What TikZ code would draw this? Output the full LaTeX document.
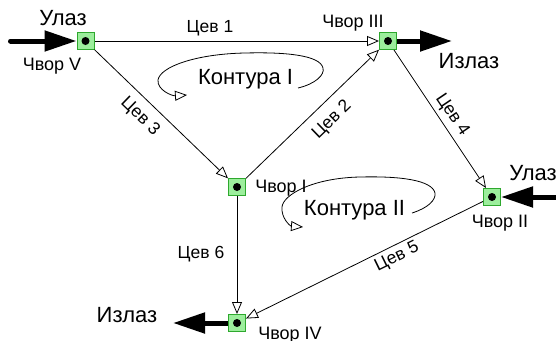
\documentclass[tikz,border=0pt]{standalone}
\usepackage{fontspec}
\setmainfont{Liberation Sans}
\usetikzlibrary{arrows.meta}
\definecolor{jfill}{HTML}{9CEE9C}
\definecolor{jdraw}{HTML}{2EA82E}
\tikzset{
  junction/.style={rectangle, draw=jdraw, fill=jfill, line width=1pt, minimum size=17pt, inner sep=0pt,
    path picture={\fill[black] (path picture bounding box.center) circle (4pt);}},
  pipe/.style={line width=0.8pt, -{Triangle[fill=white, length=12pt, width=10pt]}},
  flow/.style={line width=5pt, -{Triangle[length=32pt, width=20pt]}},
  flowtail/.style={flow, line cap=round},
  loop/.style={line width=0.8pt, -{Triangle[fill=white, length=12pt, width=10pt]}},
  pipelabel/.style={font=\fontsize{17.5}{19}\selectfont, inner sep=0pt},
  junclabel/.style={font=\fontsize{18}{20}\selectfont, inner sep=0pt, anchor=base},
  iolabel/.style={font=\fontsize{22}{25}\selectfont, inner sep=0pt, anchor=base},
  contlabel/.style={font=\fontsize{22}{25}\selectfont, inner sep=0pt, anchor=base},
}
\begin{document}
\begin{tikzpicture}[x=1pt, y=-1pt]
\useasboundingbox (0,0) rectangle (556,340);
% junctions
\node[junction] (V) at (85.5,41) {};
\node[junction] (III) at (388,41) {};
\node[junction] (I) at (237,187) {};
\node[junction] (II) at (492,197) {};
\node[junction] (IV) at (237,323) {};
% free ends of external flows
\coordinate (inV) at (10.5,41);
\coordinate (outIII) at (452,41);
\coordinate (inII) at (560,197);
\coordinate (outIV) at (173,323);
% pipes
\draw[pipe] (V) -- (III);
\draw[pipe] (V) -- (I);
\draw[pipe] (I) -- (III);
\draw[pipe] (III) -- (II);
\draw[pipe] (II) -- (IV);
\draw[pipe] (I) -- (IV);
% external flows
\draw[flowtail] (inV) -- (V);
\draw[flow] (III) -- (outIII);
\draw[flow] (inII) -- (II);
\draw[flow] (IV) -- (outIV);
% contour loops
\draw[loop] (298,88) .. controls (315,84) and (325,75) .. (323,68)
  .. controls (320,55) and (285,52) .. (245,53)
  .. controls (195,54) and (160,67) .. (158,80)
  .. controls (157,90) and (172,96) .. (187,95);
\draw[loop] (412,213) .. controls (428,208) and (436,200) .. (435,193)
  .. controls (432,180) and (400,176) .. (360,177)
  .. controls (312,178) and (283,195) .. (282,207)
  .. controls (281,218) and (290,226) .. (303,227);
% pipe labels
\node[pipelabel] (c1) at (210,28) {Цев 1};
\node[pipelabel, rotate=-44] (c3) at (140,117) {Цев 3};
\node[pipelabel, rotate=44] (c2) at (332,120) {Цев 2};
\node[pipelabel, rotate=-56] (c4) at (452,115) {Цев 4};
\node[pipelabel, rotate=26] (c5) at (397,257) {Цев 5};
\node[pipelabel] (c6) at (201,254) {Цев 6};
% junction labels
\node[junclabel] (lV) at (52,70) {Чвор V};
\node[junclabel] (lIII) at (353,27) {Чвор III};
\node[junclabel] (lI) at (281,192) {Чвор I};
\node[junclabel] (lII) at (500,227) {Чвор II};
\node[junclabel] (lIV) at (290,339) {Чвор IV};
% io labels
\node[iolabel] (uV) at (63,25) {Улаз};
\node[iolabel] (oIII) at (469,68) {Излаз};
\node[iolabel] (uII) at (533,180) {Улаз};
\node[iolabel] (oIV) at (127,322) {Излаз};
% contour labels
\node[contlabel] (k1) at (245.5,84) {Контура I};
\node[contlabel] (k2) at (354.5,215) {Контура II};
\end{tikzpicture}
\end{document}
